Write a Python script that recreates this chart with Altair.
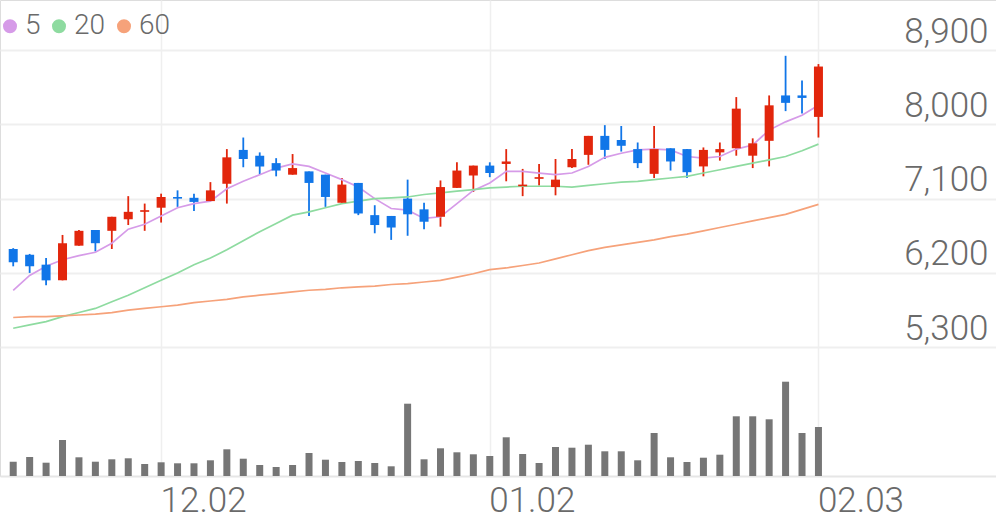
import json
import altair as alt
import pandas as pd

# ---------------- data ----------------
dates = ["11.19", "11.20", "11.21", "11.22", "11.25", "11.26", "11.27", "11.28", "11.29",
         "12.02", "12.03", "12.04", "12.05", "12.06", "12.09", "12.10", "12.11", "12.12",
         "12.13", "12.16", "12.17", "12.18", "12.19", "12.20", "12.23", "12.24", "12.26",
         "12.27", "12.30", "01.02", "01.03", "01.06", "01.07", "01.08", "01.09", "01.10",
         "01.13", "01.14", "01.15", "01.16", "01.17", "01.20", "01.21", "01.22", "01.23",
         "01.28", "01.29", "01.30", "01.31", "02.03"]
opens = [6490, 6420, 6300, 6110, 6530, 6720, 6710, 6850, 6940, 6990,
         7120, 7110, 7070, 7280, 7690, 7620, 7530, 7390, 7430, 7390,
         7050, 7290, 6900, 6890, 7100, 6970, 6880, 7230, 7380, 7500,
         7520, 7250, 7340, 7240, 7480, 7630, 7860, 7810, 7700, 7400,
         7710, 7700, 7490, 7660, 7710, 7620, 7800, 8350, 8350, 8090]
closes = [6330, 6280, 6110, 6560, 6710, 6560, 6880, 6940, 6960, 7120,
          7100, 7060, 7200, 7600, 7580, 7490, 7440, 7470, 7290, 7120,
          7270, 6920, 6780, 6750, 6910, 6820, 7240, 7440, 7500, 7410,
          7550, 7270, 7360, 7330, 7580, 7860, 7690, 7740, 7530, 7700,
          7550, 7420, 7690, 7700, 8190, 7770, 8230, 8260, 8320, 8700]
highs = [6500, 6430, 6380, 6660, 6720, 6720, 6880, 7130, 7040, 7160,
         7200, 7160, 7300, 7700, 7840, 7660, 7590, 7640, 7430, 7390,
         7350, 7290, 7020, 6890, 7330, 7050, 7320, 7540, 7500, 7540,
         7700, 7460, 7520, 7580, 7700, 7860, 7990, 7980, 7780, 7980,
         7710, 7700, 7720, 7780, 8330, 7830, 8350, 8830, 8530, 8730]
lows = [6280, 6200, 6050, 6110, 6530, 6460, 6490, 6780, 6710, 6810,
        7000, 6950, 7070, 7040, 7480, 7390, 7370, 7390, 6890, 7000,
        7050, 6900, 6680, 6600, 6650, 6730, 6760, 7230, 7180, 7360,
        7310, 7130, 7260, 7140, 7470, 7510, 7580, 7670, 7470, 7350,
        7440, 7350, 7370, 7560, 7620, 7470, 7490, 8160, 8130, 7840]
volumes = [143000, 190000, 133000, 360000, 187000, 143000, 167000, 177000, 120000, 137000,
           127000, 127000, 157000, 267000, 173000, 110000, 90000, 110000, 230000, 163000,
           140000, 150000, 130000, 97000, 723000, 167000, 277000, 237000, 217000, 200000,
           387000, 220000, 130000, 290000, 283000, 313000, 247000, 247000, 157000, 430000,
           187000, 140000, 183000, 213000, 597000, 597000, 567000, 943000, 430000, 490000]
ma5 = [5990, 6170, 6280, 6360, 6410, 6450, 6560, 6730, 6790, 6890,
       6990, 7040, 7070, 7220, 7310, 7390, 7470, 7520, 7490, 7410,
       7330, 7240, 7100, 6980, 6960, 6860, 6880, 7040, 7200, 7290,
       7430, 7430, 7410, 7390, 7410, 7490, 7600, 7650, 7690, 7700,
       7690, 7610, 7590, 7610, 7700, 7750, 7930, 8030, 8110, 8230]
ma20 = [5530, 5570, 5610, 5670, 5720, 5770, 5850, 5930, 6020, 6110,
        6200, 6300, 6380, 6480, 6590, 6700, 6800, 6900, 6940, 6990,
        7040, 7070, 7100, 7110, 7120, 7150, 7170, 7190, 7210, 7230,
        7240, 7250, 7250, 7250, 7240, 7260, 7280, 7300, 7310, 7330,
        7350, 7370, 7410, 7450, 7490, 7530, 7570, 7610, 7680, 7760]
ma60 = [5660, 5670, 5670, 5680, 5690, 5700, 5720, 5750, 5770, 5790,
        5810, 5840, 5860, 5880, 5910, 5930, 5950, 5970, 5990, 6000,
        6020, 6030, 6040, 6060, 6070, 6090, 6110, 6150, 6190, 6240,
        6260, 6290, 6320, 6370, 6420, 6470, 6510, 6540, 6570, 6600,
        6640, 6670, 6710, 6750, 6790, 6830, 6870, 6910, 6970, 7030]
ma_names = ["5", "20", "60"]
ma_colors = ["#d69be8", "#8edba0", "#f6a27a"]
price_ticks = [5300, 6200, 7100, 8000, 8900]
date_ticks = ["12.02", "01.02", "02.03"]

UP = "#e2260c"
DOWN = "#1176e8"
VOL = "#767676"
TXT = "#6a6a6a"
GRID = "#efefef"
FONT = "Roboto"

idx = list(range(len(dates)))
candles = pd.DataFrame({"i": idx, "date": dates, "open": opens, "close": closes,
                        "high": highs, "low": lows, "volume": volumes})
ma_rows = []
for name, series in zip(ma_names, [ma5, ma20, ma60]):
    for i, v in zip(idx, series):
        ma_rows.append({"i": i, "ma": name, "value": v})
ma_df = pd.DataFrame(ma_rows)
tick_idx = [dates.index(d) for d in date_ticks]

# ---------------- scales ----------------
xscale = alt.Scale(domain=[-0.5, 59.5], nice=False, zero=False)
pscale = alt.Scale(domain=[3740, 9506], nice=False, zero=False)
vscale = alt.Scale(domain=[0, 4760000], nice=False, zero=True)

x_axis = alt.Axis(values=tick_idx, labelExpr=f"{json.dumps(dates)}[datum.value]",
                  grid=True, gridColor=GRID, gridWidth=1.5, ticks=False,
                  domain=True, domainColor="#e6e6e6", domainWidth=2,
                  labelAlign="left", labelPadding=7, labelOffset=-1,
                  labelFont=FONT, labelFontSize=35, labelFontWeight=300,
                  labelColor=TXT, title=None)
y_axis = alt.Axis(values=price_ticks, format=",.0f", orient="right",
                  grid=True, gridColor=GRID, gridWidth=2, ticks=False, domain=False,
                  labelAlign="right", labelBaseline="bottom", labelPadding=-8,
                  labelOffset=-1,
                  labelFont=FONT, labelFontSize=35, labelFontWeight=300,
                  labelColor=TXT, title=None)

cond_color = alt.condition("datum.close >= datum.open", alt.value(UP), alt.value(DOWN))

volume = alt.Chart(candles).mark_bar(size=7, color=VOL).encode(
    x=alt.X("i:Q", scale=xscale, axis=x_axis),
    y=alt.Y("volume:Q", scale=vscale, axis=None),
)

wicks = alt.Chart(candles).mark_rule(strokeWidth=1.8).encode(
    x=alt.X("i:Q", scale=xscale, axis=x_axis),
    y=alt.Y("low:Q", scale=pscale, axis=y_axis),
    y2="high:Q",
    color=cond_color,
)

bodies = alt.Chart(candles).mark_bar(size=9).encode(
    x=alt.X("i:Q", scale=xscale, axis=x_axis),
    y=alt.Y("open:Q", scale=pscale, axis=None),
    y2="close:Q",
    color=cond_color,
)

lines = alt.Chart(ma_df).mark_line(strokeWidth=1.7).encode(
    x=alt.X("i:Q", scale=xscale, axis=x_axis),
    y=alt.Y("value:Q", scale=pscale, axis=None),
    color=alt.Color("ma:N", sort=ma_names,
                    scale=alt.Scale(domain=ma_names, range=ma_colors),
                    legend=alt.Legend(orient="none", legendX=-4, legendY=12,
                                      padding=0, direction="horizontal", title=None,
                                      symbolType="circle", symbolSize=49,
                                      symbolStrokeWidth=7, labelFont=FONT,
                                      labelFontSize=28, labelFontWeight=300,
                                      labelColor=TXT, labelOffset=1,
                                      columnPadding=0)),
    order="i:Q",
)

chart = alt.layer(volume, wicks, lines, bodies).resolve_scale(
    y="independent"
).properties(
    width=996, height=476,
    autosize=alt.AutoSizeParams(type="none"),
    padding={"left": 0, "right": 0, "top": 0, "bottom": 43},
).configure_view(stroke=None).configure(background="white")

chart.save("out.html", embed_options={"renderer": "svg", "actions": False})
